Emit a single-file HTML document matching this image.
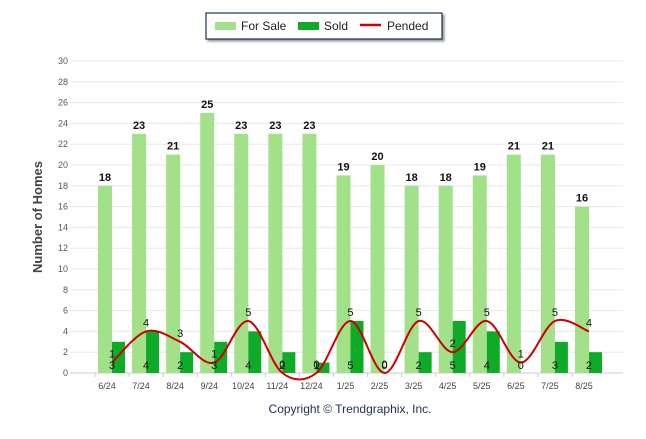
<!DOCTYPE html>
<html><head><meta charset="utf-8"><style>
body{margin:0;background:#fff;font-family:"Liberation Sans",sans-serif}
</style></head><body>
<svg width="646" height="434" id="c" xmlns="http://www.w3.org/2000/svg" font-family="Liberation Sans, sans-serif">
<g>
<rect x="206" y="13" width="236" height="26" fill="#fff" stroke="#1f3050" stroke-width="1.2" style="filter:drop-shadow(2px 2px 1px #999)"/>
<rect x="215" y="22" width="21" height="8" fill="#a3e08a"/>
<text x="241" y="30" font-size="12" fill="#222">For Sale</text>
<rect x="298" y="22" width="21" height="8" fill="#0eaa28"/>
<text x="324" y="30" font-size="12" fill="#222">Sold</text>
<line x1="360" y1="25" x2="381" y2="25" stroke="#cc0000" stroke-width="2.5"/>
<text x="387" y="30" font-size="12" fill="#222">Pended</text>
</g>
<text transform="translate(42,217) rotate(-90)" text-anchor="middle" font-size="13" font-weight="bold" fill="#444">Number of Homes</text>
<text x="350" y="413" text-anchor="middle" font-size="12" fill="#1f3050">Copyright © Trendgraphix, Inc.</text>
<g id="grid"></g><g id="bars"></g><g id="line"></g><g id="labels"></g>
</svg>
<script>
const categories=["6/24","7/24","8/24","9/24","10/24","11/24","12/24","1/25","2/25","3/25","4/25","5/25","6/25","7/25","8/25"];
const forSale=[18,23,21,25,23,23,23,19,20,18,18,19,21,21,16];
const sold=[3,4,2,3,4,2,1,5,0,2,5,4,0,3,2];
const pended=[1,4,3,1,5,0,0,5,0,5,2,5,1,5,4];
const yTicks=[0,2,4,6,8,10,12,14,16,18,20,22,24,26,28,30];
const NS="http://www.w3.org/2000/svg";
const y=v=>373-v*10.4;
const x=i=>112+i*34.07;
function mk(tag,attrs,parent,text){const e=document.createElementNS(NS,tag);for(const k in attrs)e.setAttribute(k,attrs[k]);if(text!==undefined)e.textContent=text;document.getElementById(parent).appendChild(e);return e;}
yTicks.forEach(t=>{
 const l=mk('line',{x1:70,x2:623,y1:y(t),y2:y(t),stroke:t===0?'#ccc':'#e8e8e8','stroke-width':1},'grid');
 
 
 const tx=mk('text',{x:68,y:y(t)+3,'text-anchor':'end','font-size':9,fill:'#555'},'grid',t);
 
 
});
categories.forEach((c,i)=>{
 const tx=mk('text',{x:x(i)-5,y:389,'text-anchor':'middle','font-size':9,fill:'#444'},'grid',c);
 
 
 const tk=mk('line',{x1:x(i)-17,x2:x(i)-17,y1:373,y2:377,stroke:'#ccc'},'grid');
 
 
 const b1=mk('rect',{x:x(i)-14,y:y(forSale[i]),width:14,height:373-y(forSale[i]),fill:'#a3e08a'},'bars');
 
 
 const b2=mk('rect',{x:x(i),y:y(sold[i]),width:13,height:373-y(sold[i]),fill:'#0eaa28'},'bars');
 
 
 const l1=mk('text',{x:x(i)-7,y:y(forSale[i])-5,'text-anchor':'middle','font-size':11,'font-weight':'bold',fill:'#111'},'labels',forSale[i]);
 
 
 const l2=mk('text',{x:x(i),y:369,'text-anchor':'middle','font-size':11,fill:'#111'},'labels',sold[i]);
 
 
 const l3=mk('text',{x:x(i),y:y(pended[i])-5,'text-anchor':'middle','font-size':11,fill:'#111'},'labels',pended[i]);
 
 
});
const pts=pended.map((v,i)=>[x(i),y(v)]);
let d='M'+pts[0][0]+','+pts[0][1];
for(let i=0;i<pts.length-1;i++){
 const p0=pts[Math.max(0,i-1)],p1=pts[i],p2=pts[i+1],p3=pts[Math.min(pts.length-1,i+2)];
 const c1=[p1[0]+(p2[0]-p0[0])/6,p1[1]+(p2[1]-p0[1])/6];
 const c2=[p2[0]-(p3[0]-p1[0])/6,p2[1]-(p3[1]-p1[1])/6];
 d+=` C${c1[0]},${c1[1]} ${c2[0]},${c2[1]} ${p2[0]},${p2[1]}`;
}
const ln=mk('path',{d:d,fill:'none',stroke:'#cc0000','stroke-width':2},'line');


</script>
</body></html>
